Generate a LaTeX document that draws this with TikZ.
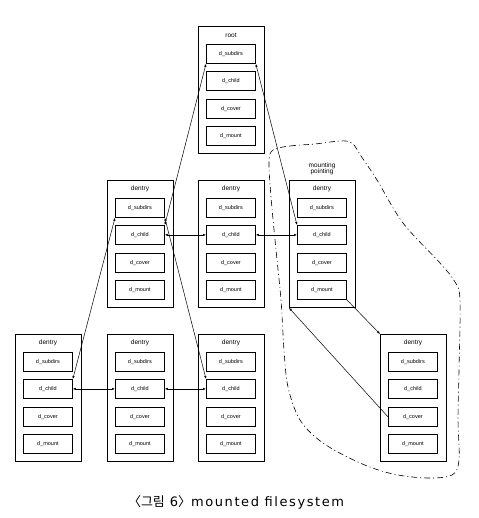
\documentclass[tikz,border=0pt]{standalone}
\usepackage{fontspec}
\setmainfont{Liberation Sans}
\newfontfamily\krfont{Noto Sans CJK KR}
\newfontfamily\capfont[LetterSpace=12]{DejaVu Sans}
\usetikzlibrary{arrows.meta}
\tikzset{
  outer/.style={draw,line width=0.8pt,anchor=north west,minimum width=66pt,minimum height=127pt,inner sep=0pt},
  inner/.style={draw,line width=0.8pt,anchor=north west,minimum width=49pt,minimum height=19pt,inner sep=0pt,font=\fontsize{5.5}{6}\selectfont},
  ttl/.style={font=\fontsize{6.5}{7}\selectfont,inner sep=0pt},
  link/.style={line width=0.5pt,{Latex[length=3pt,width=2.4pt]}-{Latex[length=3pt,width=2.4pt]}},
  arr/.style={line width=0.5pt,-{Latex[length=3pt,width=2.4pt]}},
  fence/.style={line width=0.6pt,dash pattern=on 6pt off 3pt on 1pt off 3pt}
}
\newcommand\dbox[4]{%
  \node[outer] (#1) at (#2,#3) {};
  \node[ttl] (#1t) at (#2+33,#3+9) {#4};
  \node[inner] (#1s) at (#2+8,#3+18) {d\_subdirs};
  \node[inner] (#1c) at (#2+8,#3+45) {d\_child};
  \node[inner] (#1v) at (#2+8,#3+73) {d\_cover};
  \node[inner] (#1m) at (#2+8,#3+100) {d\_mount};
}
\begin{document}
\begin{tikzpicture}[x=1pt,y=-1pt]
\useasboundingbox (0,0) rectangle (478,518);
\dbox{r}{198}{26}{root}
\dbox{a}{107}{180}{dentry}
\dbox{b}{198}{180}{dentry}
\dbox{m}{289}{180}{dentry}
\dbox{p}{15}{334}{dentry}
\dbox{q}{107}{334}{dentry}
\dbox{s}{198}{334}{dentry}
\dbox{n}{380}{334}{dentry}
\node[ttl,align=center] (mp) at (322,169) {mounting\\[-0.5pt]pointing};
% connectors
\draw[link] (rs.south west) -- (ac.north east);
\draw[link] (rs.south east) -- (mc.north west);
\draw[link] (as.south west) -- (pc.north east);
\draw[link] (as.south east) -- (sc.north west);
\draw[link] (ac.east) -- (bc.west);
\draw[link] (bc.east) -- (mc.west);
\draw[link] (pc.east) -- (qc.west);
\draw[link] (qc.east) -- (sc.west);
\draw[arr] (mm.south east) -- (n.north west);
\draw[arr] (nv.west) -- (m.south west);
% mounted filesystem boundary
\draw[fence] plot[smooth cycle,tension=0.55] coordinates {
 (273,150) (290,146) (315,144) (340,141) (352,143) (361,156) (377,180) (403,223)
 (440,263) (455,282) (460,300) (459,370) (458,420) (459,460) (452,475) (427,478)
 (393,474) (360,463) (323,443) (300,420) (288,387) (284,350) (281,300) (276,250)
 (271,197) (269,162)};
\node[inner sep=0pt,font=\fontsize{13}{15}\selectfont] (cap) at (236,502)
  {{\krfont 〈그림}\hspace{5pt}{\capfont 6}{\krfont 〉}{\capfont mounted filesystem}};
\end{tikzpicture}
\end{document}
